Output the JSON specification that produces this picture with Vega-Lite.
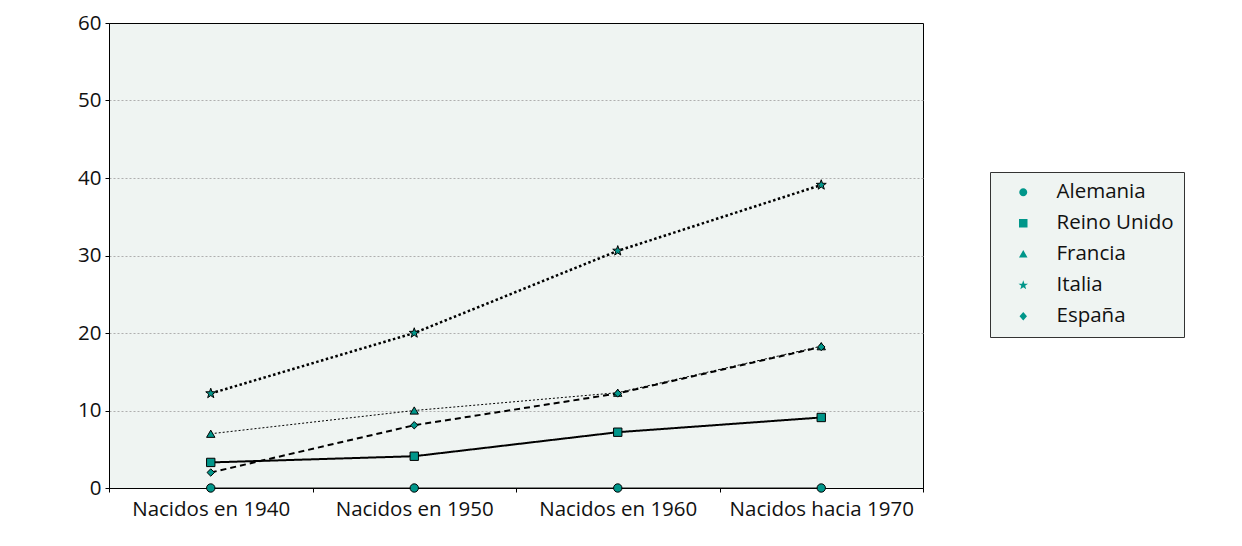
{
  "$schema": "https://vega.github.io/schema/vega-lite/v6.json",
  "width": 814,
  "height": 465,
  "autosize": {"type": "none"},
  "padding": {"left": 109, "top": 23, "right": 319, "bottom": 58},
  "background": "white",
  "config": {
    "font": "Open Sans",
    "view": {"stroke": "#000", "strokeWidth": 1, "fill": "#EFF4F2"},
    "axis": {"labelFont": "Open Sans", "labelFontSize": 20.5, "labelColor": "#111", "domainColor": "#000", "tickColor": "#000", "tickSize": 4, "title": null, "labelLimit": 300}
  },
  "data": {
    "values": [
      {"cohorte": "Nacidos en 1940", "pais": "Alemania", "valor": 0},
      {"cohorte": "Nacidos en 1950", "pais": "Alemania", "valor": 0},
      {"cohorte": "Nacidos en 1960", "pais": "Alemania", "valor": 0},
      {"cohorte": "Nacidos hacia 1970", "pais": "Alemania", "valor": 0},
      {"cohorte": "Nacidos en 1940", "pais": "Reino Unido", "valor": 3.3},
      {"cohorte": "Nacidos en 1950", "pais": "Reino Unido", "valor": 4.1},
      {"cohorte": "Nacidos en 1960", "pais": "Reino Unido", "valor": 7.2},
      {"cohorte": "Nacidos hacia 1970", "pais": "Reino Unido", "valor": 9.1},
      {"cohorte": "Nacidos en 1940", "pais": "Francia", "valor": 7.0},
      {"cohorte": "Nacidos en 1950", "pais": "Francia", "valor": 10.0},
      {"cohorte": "Nacidos en 1960", "pais": "Francia", "valor": 12.3},
      {"cohorte": "Nacidos hacia 1970", "pais": "Francia", "valor": 18.3},
      {"cohorte": "Nacidos en 1940", "pais": "Italia", "valor": 12.2},
      {"cohorte": "Nacidos en 1950", "pais": "Italia", "valor": 20.0},
      {"cohorte": "Nacidos en 1960", "pais": "Italia", "valor": 30.6},
      {"cohorte": "Nacidos hacia 1970", "pais": "Italia", "valor": 39.1},
      {"cohorte": "Nacidos en 1940", "pais": "España", "valor": 2.0},
      {"cohorte": "Nacidos en 1950", "pais": "España", "valor": 8.1},
      {"cohorte": "Nacidos en 1960", "pais": "España", "valor": 12.2},
      {"cohorte": "Nacidos hacia 1970", "pais": "España", "valor": 18.2}
    ]
  },
  "encoding": {
    "x": {
      "field": "cohorte", "type": "nominal",
      "sort": ["Nacidos en 1940", "Nacidos en 1950", "Nacidos en 1960", "Nacidos hacia 1970"],
      "bandPosition": 0.5,
      "scale": {"type": "band", "paddingInner": 0, "paddingOuter": 0},
      "axis": {"title": null, "orient": "bottom", "labelAngle": 0, "tickBand": "extent", "labelPadding": 7, "grid": false, "labelLimit": 300, "labelOverlap": false}
    },
    "y": {
      "field": "valor", "type": "quantitative",
      "scale": {"domain": [0, 60], "nice": false},
      "axis": {
        "title": null, "values": [0, 10, 20, 30, 40, 50, 60], "grid": true, "gridDash": [2, 2], "gridColor": "#AFAFAF",
        "gridOpacity": {"condition": {"test": "datum.value === 0 || datum.value === 60", "value": 0}, "value": 1},
        "labelPadding": 4
      }
    }
  },
  "layer": [
    {
      "transform": [{"filter": "datum.valor < 0"}],
      "mark": {"type": "point", "filled": true, "fill": "#00968A", "stroke": "#000", "strokeWidth": 1, "opacity": 1},
      "encoding": {
        "shape": {
          "field": "pais", "type": "nominal",
          "scale": {
            "domain": ["Alemania", "Reino Unido", "Francia", "Italia", "España"],
            "range": [
              "M-2.1,0L1.8,0M3.4,0L7.3,0M3.4,0L3.339,0.306L3.166,0.566L2.906,0.739L2.6,0.8L2.294,0.739L2.034,0.566L1.861,0.306L1.8,0L1.861,-0.306L2.034,-0.566L2.294,-0.739L2.6,-0.8L2.906,-0.739L3.166,-0.566L3.339,-0.306Z",
              "M-2.1,-0.1L1.75,-0.1M-2.1,0.1L1.75,0.1M3.45,-0.1L7.3,-0.1M3.45,0.1L7.3,0.1M1.75,-0.85L3.45,-0.85L3.45,0.85L1.75,0.85Z",
              "M-2.1,0L-1.7,0M-1.3,0L-0.9,0M-0.5,0L-0.1,0M0.3,0L0.7,0M1.1,0L1.5,0M3.7,0L4.1,0M4.5,0L4.9,0M5.3,0L5.7,0M6.1,0L6.5,0M6.9,0L7.3,0M2.6,-0.85L3.45,0.65L1.75,0.65Z",
              "M-2.1,-0.1L-1.6,-0.1M-2.1,0.1L-1.6,0.1M-1.1,-0.1L-0.6,-0.1M-1.1,0.1L-0.6,0.1M-0.1,-0.1L0.4,-0.1M-0.1,0.1L0.4,0.1M0.9,-0.1L1.4,-0.1M0.9,0.1L1.4,0.1M3.8,-0.1L4.3,-0.1M3.8,0.1L4.3,0.1M4.8,-0.1L5.3,-0.1M4.8,0.1L5.3,0.1M5.8,-0.1L6.3,-0.1M5.8,0.1L6.3,0.1M6.8,-0.1L7.3,-0.1M6.8,0.1L7.3,0.1M2.6,-1L2.835,-0.324L3.551,-0.309L2.98,0.124L3.188,0.809L2.6,0.4L2.012,0.809L2.22,0.124L1.649,-0.309L2.365,-0.324Z",
              "M-2.1,-0.1L-0.8,-0.1M-2.1,0.1L-0.8,0.1M-0.2,-0.1L1.1,-0.1M-0.2,0.1L1.1,0.1M4.1,-0.1L5.4,-0.1M4.1,0.1L5.4,0.1M6,-0.1L7.3,-0.1M6,0.1L7.3,0.1M2.6,-0.85L3.35,0L2.6,0.85L1.85,0Z"
            ]
          },
          "legend": {
            "title": null,
            "orient": "none",
            "legendX": 881,
            "legendY": 149,
            "padding": 10,
            "fillColor": "#EFF4F2",
            "strokeColor": "#333",
            "symbolSize": 100,
            "symbolStrokeWidth": 1,
            "symbolFillColor": "#00968A",
            "symbolStrokeColor": "#000",
            "symbolOpacity": 1,
            "labelFont": "Open Sans",
            "labelFontSize": 20.5,
            "labelColor": "#111",
            "labelOffset": 36,
            "labelLimit": 300,
            "rowPadding": 10,
            "encode": {"symbols": {"update": {"opacity": {"value": 1}, "fill": {"value": "#00968A"}, "fillOpacity": {"value": 1}, "stroke": {"value": "#000"}, "strokeOpacity": {"value": 1}, "strokeWidth": {"value": 1}}}}
          }
        }
      }
    },
    {
      "mark": {"type": "line", "color": "#000", "strokeCap": "butt"},
      "encoding": {
        "detail": {"field": "pais", "type": "nominal"},
        "strokeDash": {
          "condition": [
            {"test": "datum.pais === 'Francia'", "value": [2, 2]},
            {"test": "datum.pais === 'Italia'", "value": [2.5, 2.5]},
            {"test": "datum.pais === 'España'", "value": [6, 4]}
          ],
          "value": [1, 0]
        },
        "strokeWidth": {
          "condition": [
            {"test": "datum.pais === 'Italia'", "value": 2.5},
            {"test": "datum.pais === 'Reino Unido' || datum.pais === 'España'", "value": 2}
          ],
          "value": 1
        }
      }
    },
    {
      "transform": [{"filter": "datum.pais === 'Alemania'"}],
      "mark": {"type": "point", "shape": "circle", "filled": true, "fill": "#00968A", "stroke": "#000", "strokeWidth": 1, "size": 70, "opacity": 1}
    },
    {
      "transform": [{"filter": "datum.pais === 'Reino Unido'"}],
      "mark": {"type": "point", "shape": "square", "filled": true, "fill": "#00968A", "stroke": "#000", "strokeWidth": 1, "size": 70, "opacity": 1}
    },
    {
      "transform": [{"filter": "datum.pais === 'Francia'"}],
      "mark": {"type": "point", "shape": "triangle-up", "filled": true, "fill": "#00968A", "stroke": "#000", "strokeWidth": 1, "size": 70, "opacity": 1}
    },
    {
      "transform": [{"filter": "datum.pais === 'Italia'"}],
      "mark": {"type": "point", "shape": "M0,-1L0.235,-0.324L0.951,-0.309L0.38,0.124L0.588,0.809L0,0.4L-0.588,0.809L-0.38,0.124L-0.951,-0.309L-0.235,-0.324Z", "filled": true, "fill": "#00968A", "stroke": "#000", "strokeWidth": 1, "size": 110, "opacity": 1}
    },
    {
      "transform": [{"filter": "datum.pais === 'España'"}],
      "mark": {"type": "point", "shape": "diamond", "filled": true, "fill": "#00968A", "stroke": "#000", "strokeWidth": 1, "size": 55, "opacity": 1}
    }
  ]
}
